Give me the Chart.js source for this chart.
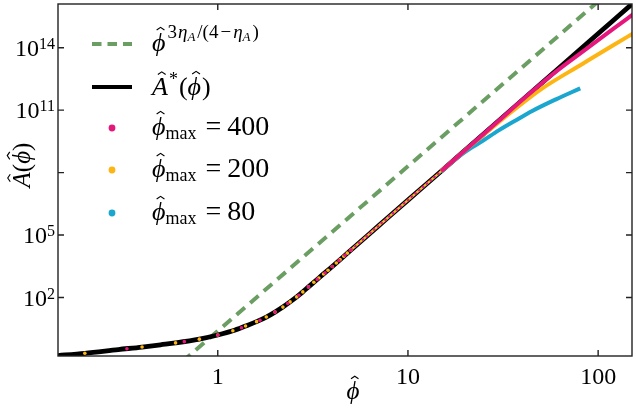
<!DOCTYPE html>
<html>
<head>
<meta charset="utf-8">
<script src="https://cdn.jsdelivr.net/npm/chart.js@4.4.0/dist/chart.umd.min.js"></script>
<style>
  html, body { margin: 0; padding: 0; background: #fff; }
</style>
</head>
<body>
<canvas id="chart" width="636" height="409"></canvas>
<script>
// values (y values are log10 of A)
const blackPhi  = [0.14, 0.2, 0.3, 0.4, 0.5, 0.6, 0.8, 1.0, 1.2, 1.4, 1.6, 1.8, 2.0, 2.2, 2.4, 2.6, 2.8, 3.0, 3.4, 4.0, 5.0, 7.0, 10, 15, 20, 30, 50, 80, 120, 155];
const blackLogA = [-0.80, -0.68, -0.50, -0.38, -0.27, -0.18, 0.00, 0.20, 0.40, 0.63, 0.84, 1.06, 1.30, 1.54, 1.79, 2.03, 2.27, 2.51, 2.94, 3.49, 4.27, 5.44, 6.68, 8.08, 9.08, 10.49, 12.27, 13.90, 15.31, 16.20];

const dashPhi  = [0.65, 105];
const dashLogA = [-1.09, 16.39];

// phi_max = 400 : separate markers at low phi, dense (line-like) at high phi
const magDotPhi  = [0.333, 0.667, 1.0, 1.333, 1.667, 2.0, 2.333, 2.667, 3.0, 3.333, 3.667, 4.0, 4.333, 4.667, 5.0];
const magDotLogA = [-0.46, -0.12, 0.20, 0.55, 0.91, 1.30, 1.71, 2.11, 2.51, 2.87, 3.19, 3.49, 3.77, 4.03, 4.27];
const magPhi  = [5, 7, 10, 15, 20, 30, 40, 60, 82.6, 120, 155];
const magLogA = [4.27, 5.44, 6.68, 8.08, 9.08, 10.49, 11.50, 12.85, 13.80, 14.90, 15.65];

// phi_max = 200
const oraDotPhi  = [0.2, 0.4, 0.6, 0.8, 1.0, 1.2, 1.4, 1.6, 1.8, 2.0, 2.2, 2.4, 2.6, 2.8, 3.0, 3.2, 3.4, 3.6, 3.8, 4.0, 4.2, 4.4, 4.6, 4.8, 5.0];
const oraDotLogA = [-0.68, -0.38, -0.18, 0.00, 0.20, 0.40, 0.63, 0.84, 1.06, 1.30, 1.54, 1.79, 2.03, 2.27, 2.51, 2.73, 2.94, 3.13, 3.31, 3.49, 3.66, 3.82, 3.98, 4.13, 4.27];
const oraPhi  = [5, 7, 10, 15, 20, 25, 30, 35.5, 50, 82.6, 120, 155];
const oraLogA = [4.27, 5.44, 6.68, 8.08, 9.07, 9.82, 10.42, 10.96, 12.0, 13.22, 14.12, 14.72];

// phi_max = 80
const cyaPhi  = [5, 7, 10, 15, 18, 20, 24.5, 30, 38, 45, 60, 80.5];
const cyaLogA = [4.27, 5.44, 6.68, 8.06, 8.68, 9.0, 9.5, 10.03, 10.58, 10.96, 11.52, 12.05];

const xTicks = [1, 10, 100];
const xTickLabels = ["1", "10", "100"];
const yTicks = [1e2, 1e5, 1e8, 1e11, 1e14];
const yTickExps = ["2", "5", "", "11", "14"];

const GREEN = "#6b9e62", MAGENTA = "#e6177c", ORANGE = "#fdb514", CYAN = "#1aa6cf";
const FONT = '"Liberation Serif", "DejaVu Serif", serif';

function pts(phi, logA) {
  return phi.map((p, i) => ({ x: p, y: Math.pow(10, logA[i]) }));
}

function hat(ctx, cx, cy, s) {
  ctx.save();
  ctx.beginPath();
  ctx.moveTo(cx - s * 0.15, cy + s * 0.07);
  ctx.lineTo(cx, cy - s * 0.03);
  ctx.lineTo(cx + s * 0.15, cy + s * 0.07);
  ctx.lineWidth = Math.max(1, s * 0.045);
  ctx.strokeStyle = "#000";
  ctx.stroke();
  ctx.restore();
}

// draws a list of text runs; returns the end x
function runs(ctx, x, y, list, measureOnly) {
  for (const r of list) {
    ctx.font = (r.it ? "italic " : "") + r.s + "px " + FONT;
    const w = ctx.measureText(r.t).width;
    if (!measureOnly) {
      ctx.fillText(r.t, x, y + (r.dy || 0));
      if (r.hat) hat(ctx, x + w / 2 + r.s * 0.07, y + (r.dy || 0) - r.s * r.hat, r.s);
    }
    x += w + (r.gap || 0);
  }
  return x;
}

const framePlugin = {
  id: "frame",
  afterDatasetsDraw(chart) {
    const { ctx, chartArea: a, scales } = chart;
    ctx.save();
    ctx.strokeStyle = "#222";
    ctx.lineWidth = 1.4;
    ctx.strokeRect(a.left, a.top, a.right - a.left, a.bottom - a.top);
    ctx.beginPath();
    xTicks.forEach(v => {
      const px = scales.x.getPixelForValue(v);
      ctx.moveTo(px, a.bottom); ctx.lineTo(px, a.bottom - 6);
      ctx.moveTo(px, a.top); ctx.lineTo(px, a.top + 6);
    });
    yTicks.forEach(v => {
      const py = scales.y.getPixelForValue(v);
      ctx.moveTo(a.left, py); ctx.lineTo(a.left + 6, py);
      ctx.moveTo(a.right, py); ctx.lineTo(a.right - 6, py);
    });
    ctx.stroke();
    ctx.restore();
  },
  afterDraw(chart) {
    const { ctx, scales } = chart;
    ctx.save();
    ctx.fillStyle = "#000";
    ctx.textBaseline = "alphabetic";

    // x tick labels
    ctx.font = "24px " + FONT;
    ctx.textAlign = "center";
    xTicks.forEach((v, i) => ctx.fillText(xTickLabels[i], scales.x.getPixelForValue(v), 384));

    // y tick labels: 10 with superscript
    ctx.textAlign = "left";
    yTicks.forEach((v, i) => {
      if (!yTickExps[i]) return;
      const py = scales.y.getPixelForValue(v);
      ctx.font = "16px " + FONT;
      const ew = ctx.measureText(yTickExps[i]).width;
      ctx.font = "24px " + FONT;
      const bw = ctx.measureText("10").width;
      const right = 55;
      ctx.fillText("10", right - ew - bw, py + 8);
      ctx.font = "16px " + FONT;
      ctx.fillText(yTickExps[i], right - ew, py + 1);
    });

    // axis titles
    const xt = [{ t: "\u03d5", it: true, s: 25, hat: 0.88 }];
    const xw = runs(ctx, 0, 0, xt, true);
    runs(ctx, 353 - xw / 2, 399, xt);

    const yt = [
      { t: "A", it: true, s: 25, hat: 0.86 },
      { t: "(", s: 25 },
      { t: "\u03d5", it: true, s: 25, hat: 0.88 },
      { t: ")", s: 25 }
    ];
    const yw = runs(ctx, 0, 0, yt, true);
    ctx.save();
    ctx.translate(30, 165);
    ctx.rotate(-Math.PI / 2);
    runs(ctx, -yw / 2, 0, yt);
    ctx.restore();

    // legend
    ctx.lineCap = "butt";
    ctx.strokeStyle = GREEN;
    ctx.lineWidth = 4;
    ctx.setLineDash([9.5, 6]);
    ctx.beginPath(); ctx.moveTo(92, 44); ctx.lineTo(132, 44); ctx.stroke();
    ctx.setLineDash([]);
    ctx.strokeStyle = "#000";
    ctx.beginPath(); ctx.moveTo(92, 87); ctx.lineTo(132, 87); ctx.stroke();
    [[MAGENTA, 128], [ORANGE, 170], [CYAN, 213]].forEach(([c, y]) => {
      ctx.fillStyle = c;
      ctx.beginPath(); ctx.arc(112, y, 3.4, 0, Math.PI * 2); ctx.fill();
    });
    ctx.fillStyle = "#000";

    runs(ctx, 152, 51, [
      { t: "\u03d5", it: true, s: 26, hat: 0.88, gap: 2 },
      { t: "3", s: 19, dy: -13, gap: 1 },
      { t: "\u03b7", it: true, s: 19, dy: -13 },
      { t: "A", it: true, s: 13, dy: -10, gap: 2 },
      { t: "/(4", s: 19, dy: -13, gap: 2 },
      { t: "\u2212", s: 19, dy: -13, gap: 2 },
      { t: "\u03b7", it: true, s: 19, dy: -13 },
      { t: "A", it: true, s: 13, dy: -10, gap: 2 },
      { t: ")", s: 19, dy: -13 }
    ]);
    runs(ctx, 152, 95, [
      { t: "A", it: true, s: 26, hat: 0.86, gap: 1 },
      { t: "*", s: 18, dy: -10, gap: 1 },
      { t: "(", s: 26 },
      { t: "\u03d5", it: true, s: 26, hat: 0.88, gap: 1 },
      { t: ")", s: 26 }
    ]);
    [["400", 128], ["200", 170], ["80", 213]].forEach(([v, y]) => {
      runs(ctx, 152, y + 7, [
        { t: "\u03d5", it: true, s: 26, hat: 0.88 },
        { t: "max", s: 18, dy: 4, gap: 9 },
        { t: "=", s: 28, gap: 6 },
        { t: v, s: 28 }
      ]);
    });
    ctx.restore();
  }
};

const lineDs = (label, data, color, extra) => Object.assign({
  label, data, borderColor: color, backgroundColor: color, borderWidth: 4,
  pointRadius: 0, showLine: true, fill: false, cubicInterpolationMode: "monotone", clip: 0
}, extra || {});
const dotDs = (label, data, color) => ({
  label, data, showLine: false, pointRadius: 1.8, pointBorderWidth: 0,
  pointBackgroundColor: color, backgroundColor: color, borderColor: color, clip: 0
});
// below phi ~ 12 the markers are still apart: thin line, striped for the top series
const thinLow = ctx => (ctx.p0.parsed.x < 12 ? 2.2 : 4);
const stripeLow = ctx => (ctx.p0.parsed.x < 12 ? [2.5, 2.5] : []);

// first dataset is painted on top
new Chart(document.getElementById("chart"), {
  type: "line",
  data: {
    datasets: [
      dotDs("phi_max = 400 (markers)", pts(magDotPhi, magDotLogA), MAGENTA),
      dotDs("phi_max = 200 (markers)", pts(oraDotPhi, oraDotLogA), ORANGE),
      lineDs("phi_max = 400", pts(magPhi, magLogA), MAGENTA, { segment: { borderWidth: thinLow, borderDash: stripeLow } }),
      lineDs("phi_max = 200", pts(oraPhi, oraLogA), ORANGE, { segment: { borderWidth: thinLow } }),
      lineDs("phi_max = 80", pts(cyaPhi, cyaLogA), CYAN, { segment: { borderWidth: thinLow } }),
      lineDs("A*(phi)", pts(blackPhi, blackLogA), "#000", { borderWidth: 4.8 }),
      lineDs("phi^(3eta/(4-eta))", pts(dashPhi, dashLogA), GREEN, { borderDash: [11, 7], cubicInterpolationMode: "default", tension: 0 })
    ]
  },
  options: {
    responsive: false,
    animation: false,
    devicePixelRatio: 1,
    layout: { padding: { left: 0, right: 3, top: 1, bottom: 0 } },
    plugins: { legend: { display: false }, tooltip: { enabled: false } },
    scales: {
      x: {
        type: "logarithmic",
        min: Math.pow(10, -0.84), max: Math.pow(10, 2.178),
        ticks: { display: false }, grid: { display: false }, border: { display: false },
        afterFit(s) { s.height = 53; }
      },
      y: {
        type: "logarithmic",
        min: Math.pow(10, -0.81), max: Math.pow(10, 16.1),
        ticks: { display: false }, grid: { display: false }, border: { display: false },
        afterFit(s) { s.width = 58; }
      }
    }
  },
  plugins: [framePlugin]
});
</script>
</body>
</html>
